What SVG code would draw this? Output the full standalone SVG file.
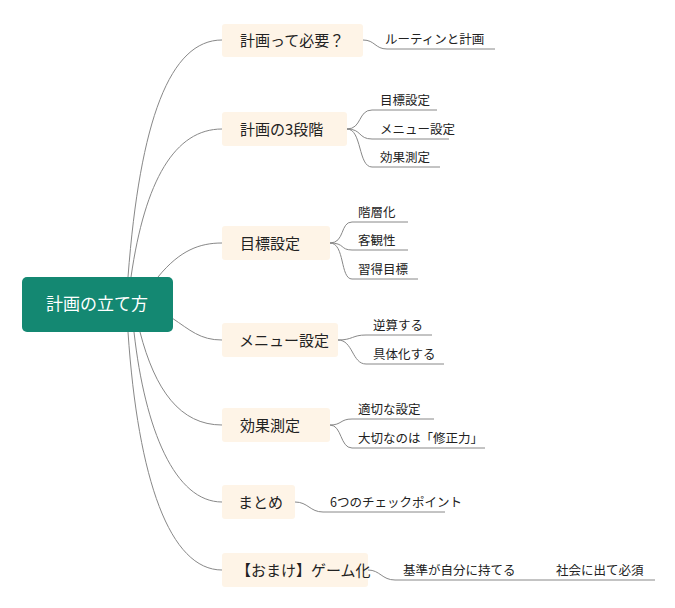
<svg xmlns="http://www.w3.org/2000/svg" width="675" height="608" viewBox="0 0 675 608">
<style>
.n{fill:#fef4e7}
.t{font-family:"Noto Sans CJK JP","Noto Sans",sans-serif;font-size:15px;fill:#222}
.s{font-family:"Noto Sans CJK JP","Noto Sans",sans-serif;font-size:12.5px;fill:#222}
.c path{fill:none;stroke:#888;stroke-width:1}
</style>
<rect width="675" height="608" fill="#fff"/>
<g class="c">
<path d="M128 277 C140 120 170 40 222 40"/>
<path d="M131 277 C145 180 175 129 222 129"/>
<path d="M158 277 C180 250 200 243 222 243"/>
<path d="M172 318 C190 330 200 340 222 340"/>
<path d="M140 332 C155 390 180 425 222 425"/>
<path d="M134 332 C145 430 175 502 222 502"/>
<path d="M128 332 C138 480 170 570 222 570"/>
<path d="M363 40 C375 40 375 49 387 49 L495 49"/>
<path d="M347 129 C362 129 358 110 372 110 L437 110"/>
<path d="M347 129 C362 129 358 139 372 139 L449 139"/>
<path d="M347 129 C362 129 358 167 372 167 L440 167"/>
<path d="M330 243 C345 243 340 222 352 222 L408 222"/>
<path d="M330 243 C345 243 340 250 352 250 L408 250"/>
<path d="M330 243 C345 243 340 279 352 279 L418 279"/>
<path d="M338 340 C353 340 352 335 366 335 L432 335"/>
<path d="M338 340 C353 340 352 364 366 364 L444 364"/>
<path d="M330 425 C342 425 340 419 352 419 L434 419"/>
<path d="M330 425 C342 425 340 448 352 448 L485 448"/>
<path d="M295 502 C308 502 310 512 323 512 L445 512"/>
<path d="M368 570 C380 570 382 580 395 580 L655 580"/>
</g>
<g id="root"><rect x="22" y="277" width="151" height="55" rx="5" fill="#148872"/><text x="97" y="310" text-anchor="middle" font-family="Noto Sans CJK JP,sans-serif" font-size="17" fill="#fff">計画の立て方</text></g>
<g id="n1"><rect class="n" x="222" y="24" width="141" height="33" rx="3"/><text class="t" x="240" y="46">計画って必要？</text></g>
<g id="n2"><rect class="n" x="222" y="112" width="125" height="34" rx="3"/><text class="t" x="240" y="135">計画の3段階</text></g>
<g id="n3"><rect class="n" x="222" y="226" width="108" height="34" rx="3"/><text class="t" x="240" y="249">目標設定</text></g>
<g id="n4"><rect class="n" x="222" y="323" width="116" height="34" rx="3"/><text class="t" x="239" y="346">メニュー設定</text></g>
<g id="n5"><rect class="n" x="222" y="408" width="108" height="34" rx="3"/><text class="t" x="240" y="431">効果測定</text></g>
<g id="n6"><rect class="n" x="222" y="485" width="73" height="34" rx="3"/><text class="t" x="238" y="508">まとめ</text></g>
<g id="n7"><rect class="n" x="222" y="553" width="146" height="34" rx="3"/><text class="t" x="236" y="576">【おまけ】ゲーム化</text></g>
<g id="leaves">
<text class="s" x="385" y="44">ルーティンと計画</text>
<text class="s" x="380" y="105">目標設定</text>
<text class="s" x="380" y="134">メニュー設定</text>
<text class="s" x="380" y="162">効果測定</text>
<text class="s" x="358" y="217">階層化</text>
<text class="s" x="358" y="245">客観性</text>
<text class="s" x="358" y="274">習得目標</text>
<text class="s" x="373" y="330">逆算する</text>
<text class="s" x="373" y="359">具体化する</text>
<text class="s" x="358" y="414">適切な設定</text>
<text class="s" x="358" y="443">大切なのは「修正力」</text>
<text class="s" x="330" y="507">6つのチェックポイント</text>
<text class="s" x="403" y="575">基準が自分に持てる</text>
<text class="s" x="556" y="575">社会に出て必須</text>
</g>
</svg>
